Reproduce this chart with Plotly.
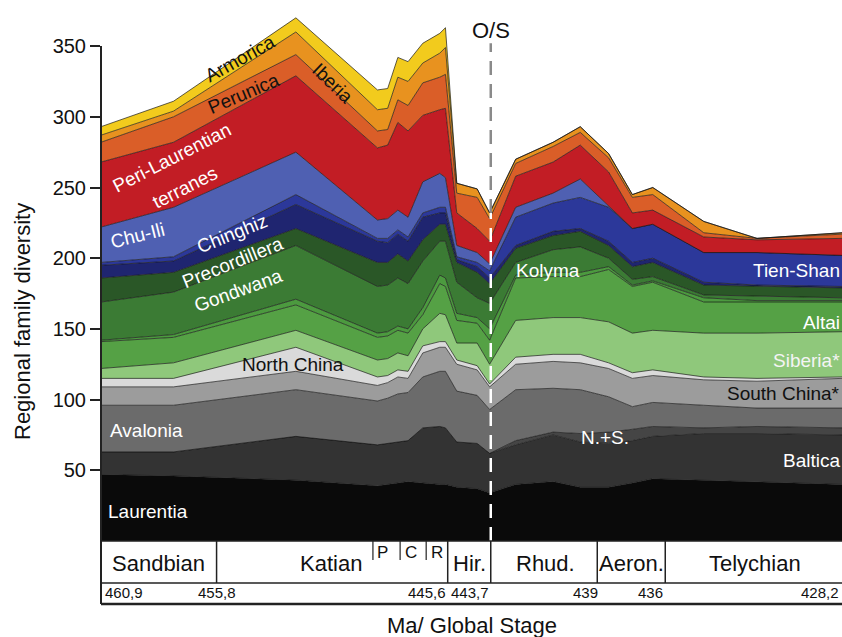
import plotly.graph_objects as go

# Ages (Ma) of the tally points along the time axis (older on the left)
age_ma = [460.9, 457.7, 452.3, 448.7, 448.25, 447.8, 447.35, 446.7, 445.95, 445.7,
          445.2, 444.3, 443.75, 442.6, 440.95, 439.75, 438.5, 437.45, 436.55, 434.3,
          431.95, 428.2]

# Family diversity per region at each tally point (stacked bottom -> top)
laurentia = [47, 46, 43, 39, 40, 41, 42, 41, 40, 40, 38, 37, 34, 40, 42, 38, 38, 41, 44, 43, 42, 40]
baltica = [16, 17, 31, 29, 29, 29, 29, 39, 41, 40, 32, 32, 28, 28, 33, 32, 31, 30, 30, 33, 34, 35]
n_plus_s = [0, 0, 0, 0, 0, 0, 0, 0, 0, 0, 0, 0, 0, 3, 2, 6, 8, 8, 7, 4, 5, 5]
avalonia = [33, 33, 33, 31, 32, 34, 34, 36, 39, 40, 36, 34, 31, 36, 31, 31, 25, 16, 17, 16, 13, 14]
south_china = [13, 13, 13, 11, 11, 12, 10, 17, 17, 17, 19, 18, 16, 18, 19, 19, 20, 20, 19, 18, 19, 21]
north_china = [6, 6, 17, 6, 5, 5, 5, 5, 4, 4, 3, 3, 2, 5, 5, 6, 4, 4, 4, 2, 2, 1]
siberia = [7, 11, 12, 12, 12, 12, 11, 12, 20, 19, 12, 16, 14, 26, 26, 26, 29, 28, 28, 31, 32, 32]
altai = [19, 18, 18, 16, 16, 16, 16, 10, 21, 20, 16, 14, 17, 30, 29, 29, 37, 33, 34, 22, 22, 21]
kolyma = [1, 2, 4, 3, 3, 3, 3, 5, 6, 6, 5, 4, 8, 2, 3, 3, 2, 1, 1, 3, 1, 1]
gondwana = [27, 30, 38, 33, 33, 34, 32, 33, 24, 26, 22, 14, 18, 9, 16, 18, 6, 4, 3, 2, 3, 2]
precordillera = [17, 14, 12, 17, 16, 17, 16, 15, 12, 12, 14, 18, 14, 10, 10, 11, 9, 9, 10, 7, 7, 7]
chinghiz = [9, 8, 17, 15, 14, 14, 14, 16, 8, 8, 2, 4, 4, 2, 3, 2, 3, 3, 3, 2, 1, 1]
tien_shan = [2, 3, 7, 2, 3, 3, 3, 3, 4, 4, 2, 3, 5, 20, 20, 22, 24, 24, 24, 21, 23, 22]
chu_ili = [25, 35, 30, 13, 14, 14, 14, 22, 24, 21, 8, 7, 5, 7, 7, 13, 1, 0, 0, 0, 0, 0]
peri_laurentian = [46, 46, 54, 51, 52, 62, 61, 47, 45, 49, 23, 17, 16, 22, 22, 24, 24, 11, 10, 11, 9, 12]
perunica = [14, 18, 15, 12, 11, 16, 18, 23, 23, 24, 14, 22, 16, 9, 11, 9, 10, 11, 11, 3, 1, 3]
iberia = [5, 4, 16, 15, 15, 16, 17, 14, 17, 19, 7, 6, 4, 3, 3, 4, 3, 2, 5, 8, 0, 1]
armorica = [6, 7, 10, 14, 14, 14, 14, 14, 14, 14, 0, 0, 0, 0, 0, 0, 0, 0, 0, 0, 0, 0]

region_names = ["Laurentia", "Baltica", "N.+S.", "Avalonia", "South China*", "North China",
                "Siberia*", "Altai", "Kolyma", "Gondwana", "Precordillera", "Chinghiz",
                "Tien-Shan", "Chu-Ili", "Peri-Laurentian terranes", "Perunica", "Iberia", "Armorica"]
region_values = [laurentia, baltica, n_plus_s, avalonia, south_china, north_china, siberia,
                 altai, kolyma, gondwana, precordillera, chinghiz, tien_shan, chu_ili,
                 peri_laurentian, perunica, iberia, armorica]
region_colors = ["#0a0a0a", "#333333", "#454545", "#6b6b6b", "#9c9c9c", "#dadada",
                 "#8fc87b", "#55a145", "#4c9a3f", "#3b7b34", "#2a5727", "#1f2570",
                 "#2c389a", "#4f60b2", "#c21d25", "#da5e28", "#e8921f", "#f2cb1d"]

# Geological time scale
stage_bounds = [460.9, 455.8, 445.6, 443.7, 439.0, 436.0, 428.2]
bound_labels = ["460,9", "455,8", "445,6", "443,7", "439", "436", "428,2"]
stage_names = ["Sandbian", "Katian", "Hir.", "Rhud.", "Aeron.", "Telychian"]
stage_label_age = [458.35, 450.75, 444.62, 441.3, 437.5, 432.04]
british_names = ["P", "C", "R"]
british_bases = [448.9, 447.7, 446.55]
british_label_age = [448.46, 447.22, 446.07]
os_boundary = 443.7

FONT = "Liberation Sans, Arial, sans-serif"

fig = go.Figure()
for name, vals, col in zip(region_names, region_values, region_colors):
    fig.add_trace(go.Scatter(
        x=age_ma, y=vals, name=name, mode="lines", stackgroup="regions",
        line=dict(color="rgba(20,20,20,0.85)", width=0.8),
        fillcolor=col, hoverinfo="x+y+name"))

# Total diversity at the O/S boundary tally point (where the dashed line meets the top)
i_os = min(range(len(age_ma)), key=lambda i: abs(age_ma[i] - os_boundary))
top_at_os = sum(v[i_os] for v in region_values)

shapes = []
# O/S boundary: grey dashes above the stack, white dashes through it
shapes.append(dict(type="line", xref="x", yref="y", x0=os_boundary, x1=os_boundary,
                   y0=top_at_os, y1=352, line=dict(color="#8a8a8a", width=2.5, dash="14px,9px")))
shapes.append(dict(type="line", xref="x", yref="y", x0=os_boundary, x1=os_boundary,
                   y0=0, y1=top_at_os, line=dict(color="white", width=2.5, dash="14px,9px")))

# Y axis line (also the left edge of the time-scale box)
PX = 541.0  # plot height in pixels
row1 = -42 / PX
row2 = -63 / PX
shapes.append(dict(type="line", xref="paper", yref="paper", x0=0, x1=0,
                   y0=350 / 382.6, y1=row2, line=dict(color="#222", width=2)))
# time-scale box rows
for yy, w in [(0, 1.5), (row1, 1.5), (row2, 2.5)]:
    shapes.append(dict(type="line", xref="x", yref="paper", x0=stage_bounds[0], x1=stage_bounds[-1],
                       y0=yy, y1=yy, line=dict(color="#222", width=w)))
for b in stage_bounds[1:-1]:
    shapes.append(dict(type="line", xref="x", yref="paper", x0=b, x1=b, y0=0, y1=row1,
                       line=dict(color="#222", width=1.5)))
for b in british_bases:
    shapes.append(dict(type="line", xref="x", yref="paper", x0=b, x1=b, y0=0, y1=-19 / PX,
                       line=dict(color="#222", width=1.2)))

ann = []
for name, a in zip(stage_names, stage_label_age):
    ann.append(dict(x=a, y=-22 / PX, xref="x", yref="paper", text=name, showarrow=False,
                    font=dict(size=22, color="#111", family=FONT), xanchor="center", yanchor="middle"))
for name, a in zip(british_names, british_label_age):
    ann.append(dict(x=a, y=-11 / PX, xref="x", yref="paper", text=name, showarrow=False,
                    font=dict(size=17, color="#111", family=FONT), xanchor="center", yanchor="middle"))
anchors = ["left", "center", "right", "right", "right", "right", "right"]
shifts = [2, 0, 0, 0, 3, 0, -1]
for b, lab, an, sh in zip(stage_bounds, bound_labels, anchors, shifts):
    ann.append(dict(x=b, y=-52 / PX, xref="x", yref="paper", text=lab, showarrow=False, xshift=sh,
                    font=dict(size=15, color="#111", family=FONT), xanchor=an, yanchor="middle"))
ann.append(dict(x=(472 - 101) / 741, y=-84 / PX, xref="paper", yref="paper", text="Ma/ Global Stage",
                showarrow=False, xanchor="center", yanchor="middle",
                font=dict(size=22, color="#111", family=FONT)))
ann.append(dict(x=-79 / 741, y=(541 - 322) / PX, xref="paper", yref="paper",
                text="Regional family diversity", textangle=-90, showarrow=False,
                xanchor="center", yanchor="middle",
                font=dict(size=22, color="#111", family=FONT)))
ann.append(dict(x=os_boundary, y=361, xref="x", yref="y", text="O/S", showarrow=False,
                xanchor="center", yanchor="middle",
                font=dict(size=22, color="#111", family=FONT)))

# Region labels: (text, age, value, angle, colour, anchor)
labels = [
    ("Armorica", 454.75, 341.0, -29, "#111", "center"),
    ("Perunica", 454.6, 316.5, -23, "#111", "center"),
    ("Iberia", 450.66, 323.9, 44, "#111", "center"),
    ("Peri-Laurentian", 457.75, 271.0, -27, "white", "center"),
    ("terranes", 457.2, 250.0, -27, "white", "center"),
    ("Chu-Ili", 459.3, 216.4, -14, "white", "center"),
    ("Chinghiz", 455.1, 217.5, -22, "white", "center"),
    ("Precordillera", 455.1, 197.3, -22, "white", "center"),
    ("Gondwana", 454.85, 177.5, -20, "white", "center"),
    ("North China", 452.43, 124.5, 0, "#111", "center"),
    ("Avalonia", 458.91, 77.8, 0, "white", "center"),
    ("Laurentia", 458.83, 21.2, 0, "white", "center"),
    ("Kolyma", 441.17, 191.0, 0, "white", "center"),
    ("N.+S.", 438.66, 73.5, 0, "white", "center"),
    ("Tien-Shan", 428.2, 191.0, 0, "white", "right"),
    ("Altai", 428.2, 154.2, 0, "white", "right"),
    ("Siberia*", 428.2, 128.0, 0, "#f4f4f4", "right"),
    ("South China*", 428.2, 104.0, 0, "#111", "right"),
    ("Baltica", 428.2, 56.6, 0, "white", "right"),
]
for t, a, v, ang, col, xa in labels:
    ann.append(dict(x=a, y=v, xref="x", yref="y", text=t, showarrow=False, textangle=ang,
                    xanchor=xa, yanchor="middle", font=dict(size=19, color=col, family=FONT)))

fig.update_layout(
    width=842, height=637, margin=dict(l=101, r=0, t=0, b=96),
    paper_bgcolor="white", plot_bgcolor="white", showlegend=False,
    xaxis=dict(range=[460.9, 428.2], visible=False, fixedrange=True),
    yaxis=dict(range=[0, 382.6], tickvals=[50, 100, 150, 200, 250, 300, 350],
               ticks="outside", ticklen=10, tickwidth=1.5, tickcolor="#222",
               showline=False, showgrid=False, zeroline=False,
               tickfont=dict(size=20, color="#111", family=FONT)),
    shapes=shapes, annotations=ann,
)

fig.write_html("out.html")
